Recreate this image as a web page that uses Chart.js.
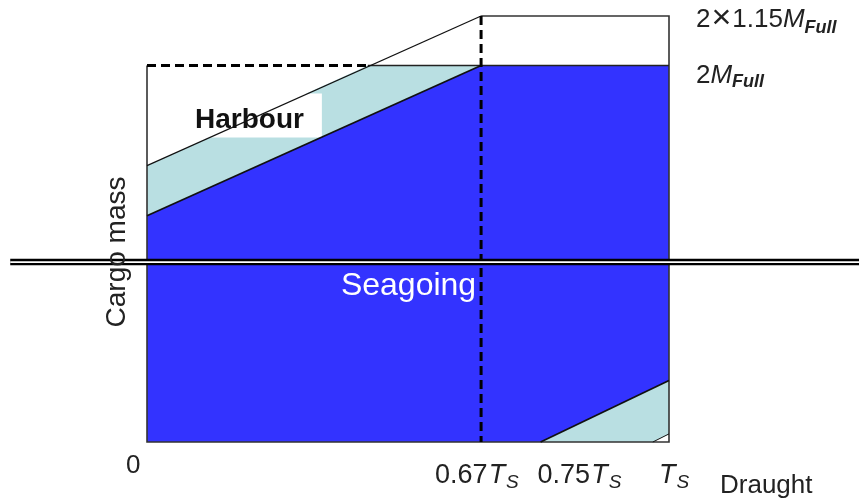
<!DOCTYPE html>
<html>
<head>
<meta charset="utf-8">
<script src="https://cdn.jsdelivr.net/npm/chart.js@4.4.0/dist/chart.umd.min.js"></script>
<style>
  html, body { margin: 0; padding: 0; background: #ffffff; }
  #wrap { width: 859px; height: 501px; position: relative; }
</style>
</head>
<body>
<div id="wrap"><canvas id="chart" width="859" height="501"></canvas></div>
<script>
// draught in fractions of Ts as drawn, cargo mass in units of M_Full
let draughtMarks = [0, 0.640, 0.754, 1]          // 0, 0.67Ts, 0.75Ts, Ts
let tickLabels = ['0', '0.67', '0.75', '']
let massTop = 2.263                               // 2 x 1.15 M_Full as drawn
let massFull = 2                                  // 2 M_Full

// seagoing area (dark blue)
let seagoingX = [0, 0, 0.640, 1, 1, 0.754]
let seagoingY = [0, 1.202, 2, 2, 0.327, 0]

// harbour band upper left (light blue)
let harbourBandX = [0, 0, 0.423, 0.640]
let harbourBandY = [1.202, 1.468, 2, 2]

// harbour corner lower right (light blue)
let harbourCornerX = [0.754, 1, 1, 0.969]
let harbourCornerY = [0, 0.327, 0.043, 0]

// white patch behind the "Harbour" label
let labelBoxX = [0.082, 0.335, 0.335, 0.082]
let labelBoxY = [1.617, 1.617, 1.851, 1.851]

// boundary lines
let upperHarbourX = [0, 0.640]
let upperHarbourY = [1.468, 2.263]
let lowerHarbourX = [0, 0.640]
let lowerHarbourY = [1.202, 2]
let cornerLineX = [0.754, 1]
let cornerLineY = [0, 0.327]
let cornerSmallX = [0.969, 1]
let cornerSmallY = [0, 0.043]
let frameX = [0, 0, 1, 1, 0.640]
let frameY = [2, 0, 0, 2.263, 2.263]
let fullLineX = [0.423, 1]
let fullLineY = [2, 2]
let dashTopX = [0, 0.423]
let dashTopY = [2, 2]
let dashVertX = [0.640, 0.640]
let dashVertY = [2.263, 0]
let breakX = [-0.262, 1.364]
let breakY = [0.956, 0.956]

function pts(xs, ys){
    let out = []
    for (let i = 0; i < xs.length; i++){
        out.push({x: xs[i], y: ys[i]})
    }
    return out
}

let blue = '#3333ff'
let lightBlue = '#b9dfe2'

let datasets = [
    {data: pts(seagoingX, seagoingY), backgroundColor: blue, fill: 'shape', borderWidth: 0},
    {data: pts(harbourBandX, harbourBandY), backgroundColor: lightBlue, fill: 'shape', borderWidth: 0},
    {data: pts(harbourCornerX, harbourCornerY), backgroundColor: lightBlue, fill: 'shape', borderWidth: 0},
    {data: pts(labelBoxX, labelBoxY), backgroundColor: '#ffffff', fill: 'shape', borderWidth: 0},
    {data: pts(frameX, frameY), borderColor: '#333333', borderWidth: 1.6},
    {data: pts(fullLineX, fullLineY), borderColor: '#222222', borderWidth: 1.6},
    {data: pts(upperHarbourX, upperHarbourY), borderColor: '#111111', borderWidth: 1.2},
    {data: pts(lowerHarbourX, lowerHarbourY), borderColor: '#111111', borderWidth: 1.8},
    {data: pts(cornerLineX, cornerLineY), borderColor: '#111111', borderWidth: 1.8},
    {data: pts(cornerSmallX, cornerSmallY), borderColor: '#111111', borderWidth: 1},
    {data: pts(dashTopX, dashTopY), borderColor: '#000000', borderWidth: 3, borderDash: [9, 5]},
    {data: pts(dashVertX, dashVertY), borderColor: '#000000', borderWidth: 3, borderDash: [9, 5]},
    {data: pts(breakX, breakY), borderColor: '#000000', borderWidth: 6.4},
    {data: pts(breakX, breakY), borderColor: '#ffffff', borderWidth: 1.8}
]

// first in list is drawn first
for (let i = 0; i < datasets.length; i++){
    let d = datasets[i]
    d.order = -i
    d.showLine = true
    d.pointRadius = 0
    d.clip = false
    if (d.fill === undefined) d.fill = false
    if (d.backgroundColor === undefined) d.backgroundColor = 'rgba(0,0,0,0)'
}

// draws a label made of pieces (normal text, italic letter, subscript)
function drawPieces(ctx, x, y, pieces){
    for (let i = 0; i < pieces.length; i++){
        let p = pieces[i]
        ctx.font = p.font
        ctx.fillText(p.t, x + (p.dx || 0), y + (p.dy || 0))
        x += ctx.measureText(p.t).width + (p.dx || 0)
    }
}

let textPlugin = {
    id: 'diagramText',
    afterDraw(chart){
        let ctx = chart.ctx
        let xs = chart.scales.x
        let ys = chart.scales.y
        let fam = '"Liberation Sans", Arial, sans-serif'
        ctx.save()
        ctx.fillStyle = '#222222'
        ctx.textAlign = 'left'
        ctx.textBaseline = 'alphabetic'

        // draught tick labels
        let base = ys.getPixelForValue(0)
        ctx.font = '26px ' + fam
        ctx.fillText(tickLabels[0], xs.getPixelForValue(draughtMarks[0]) - 21, base + 31)
        let starts = [0, -46, -3, -11]
        for (let i = 1; i < draughtMarks.length; i++){
            let px = xs.getPixelForValue(draughtMarks[i]) + starts[i]
            drawPieces(ctx, px, base + 41, [
                {t: tickLabels[i], font: '27px ' + fam},
                {t: 'T', font: 'italic 27px ' + fam, dx: 1},
                {t: 'S', font: 'italic 19px ' + fam, dy: 5, dx: 1}
            ])
        }
        ctx.font = '26px ' + fam
        ctx.fillText('Draught', xs.getPixelForValue(1) + 51, base + 51)

        // mass labels on the right
        let rx = xs.getPixelForValue(1) + 27
        drawPieces(ctx, rx, ys.getPixelForValue(massTop) + 11, [
            {t: '2', font: '26px ' + fam},
            {t: '\u00d7', font: '34px ' + fam, dx: 1, dy: 1},
            {t: '1.15', font: '26px ' + fam, dx: 1},
            {t: 'M', font: 'italic 26px ' + fam},
            {t: 'Full', font: 'italic bold 18px ' + fam, dy: 6}
        ])
        drawPieces(ctx, rx, ys.getPixelForValue(massFull) + 17, [
            {t: '2', font: '26px ' + fam},
            {t: 'M', font: 'italic 26px ' + fam},
            {t: 'Full', font: 'italic bold 18px ' + fam, dy: 4}
        ])

        // axis title
        ctx.save()
        ctx.translate(xs.getPixelForValue(0) - 22, 252)
        ctx.rotate(-Math.PI / 2)
        ctx.textAlign = 'center'
        ctx.font = '28px ' + fam
        ctx.fillText('Cargo mass', 0, 0)
        ctx.restore()

        // area labels
        ctx.font = 'bold 28px ' + fam
        ctx.fillStyle = '#111111'
        ctx.fillText('Harbour', xs.getPixelForValue(0) + 48, 128)
        ctx.font = '32px ' + fam
        ctx.fillStyle = '#ffffff'
        ctx.textAlign = 'center'
        ctx.fillText('Seagoing', xs.getPixelForValue(0.501), 295)
        ctx.restore()
    }
}

let ctx = document.getElementById('chart').getContext('2d')
let DiagramChart = new Chart(ctx, {
    type: 'scatter',
    data: {datasets: datasets},
    options: {
        responsive: false,
        animation: false,
        layout: {padding: {left: 147, right: 190, top: 16, bottom: 59}},
        scales: {
            x: {type: 'linear', min: 0, max: 1, display: false},
            y: {type: 'linear', min: 0, max: massTop, display: false}
        },
        plugins: {
            legend: {display: false},
            tooltip: {enabled: false},
            filler: {propagate: false}
        },
        elements: {line: {tension: 0}}
    },
    plugins: [textPlugin]
})
</script>
</body>
</html>
